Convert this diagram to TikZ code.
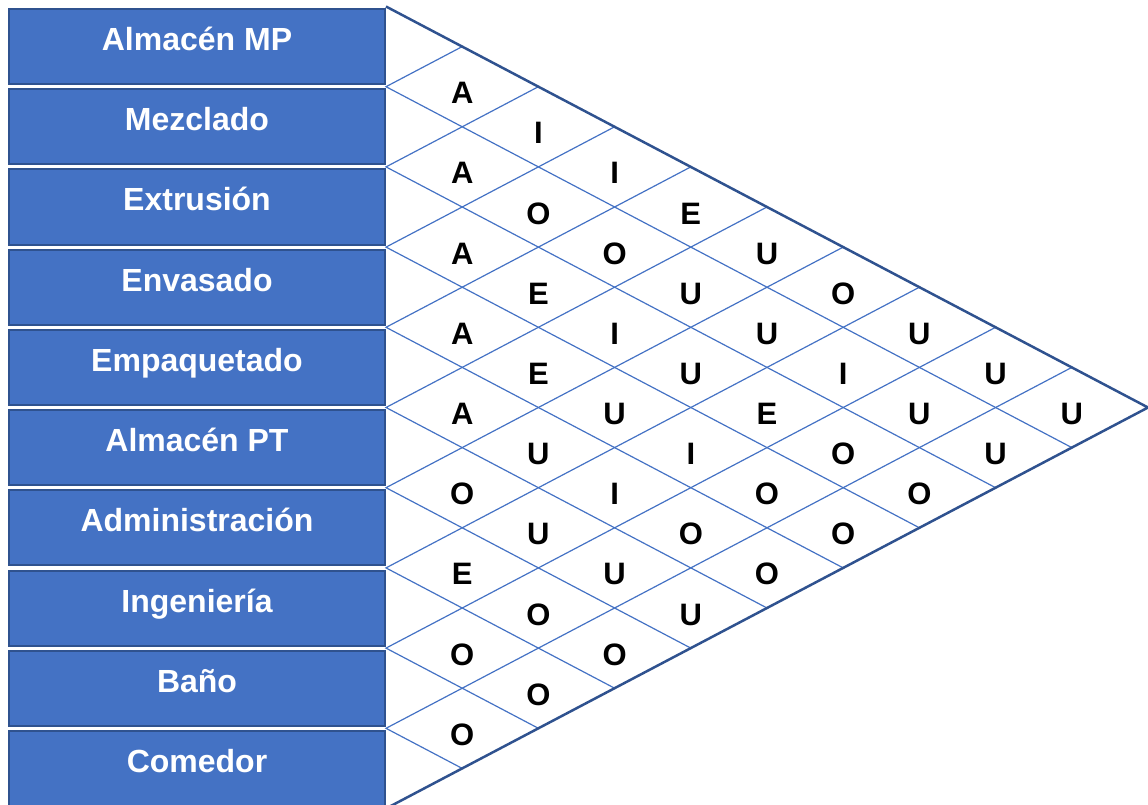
\documentclass[tikz,border=0pt]{standalone}
\usepackage{fontspec}
\setmainfont{Liberation Sans}
\definecolor{boxblue}{HTML}{4472C4}
\definecolor{edgeblue}{HTML}{2F528F}

\begin{document}
\begin{tikzpicture}[x=1pt, y=-1pt,
    dept/.style={draw=edgeblue, line width=2pt, fill=boxblue, text=white,
      minimum width=376pt, minimum height=75pt, inner sep=0pt,
      text height=20pt, text depth=12pt, font=\fontsize{32}{38}\selectfont\bfseries},
    rel/.style={anchor=base, inner sep=0pt, font=\fontsize{31}{36}\selectfont\bfseries},
    diag/.style={boxblue, line width=1.2pt},
    rim/.style={edgeblue, line width=2.5pt}]
    \useasboundingbox (0,0) rectangle (1148,805);

    \coordinate (tl) at (386,6.5);
    \coordinate (apex) at (1148,407.5);
    \coordinate (bl) at (386,808.5);

    \foreach \k in {1,...,9}
       \draw[diag] (386+\k*76.2, 6.5+\k*40.1) -- (386, 6.5+\k*80.2)
          -- (386+10*76.2-\k*76.2, 6.5+\k*80.2+10*40.1-\k*40.1);
    \draw[rim] (tl) -- (apex) -- (bl);
    %\draw[rim] (tl) -- (bl);

    \foreach \dep [count=\k from 0] in {Almacén MP, Mezclado, Extrusión,
       Envasado, Empaquetado, Almacén PT, Administración, Ingeniería, Baño, Comedor}
       \node[dept] (d\k) at (197, 46.6+\k*80.2) {\dep};

    \foreach \lets [count=\i from 0] in {{A,I,I,E,U,O,U,U,U}, {A,O,O,U,U,I,U,U},
       {A,E,I,U,E,O,O}, {A,E,U,I,O,O}, {A,U,I,O,O}, {O,U,U,U}, {E,O,O}, {O,O}, {O}}
       \foreach \l [count=\d] in \lets
          \node[rel] (r\i\d) at (386+\d*76.2, 23.5+2*\i*40.1+\d*40.1+40.1) {\l};
\end{tikzpicture}
\end{document}
